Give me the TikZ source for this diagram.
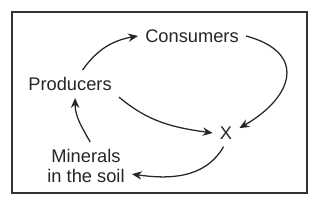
\documentclass[tikz,border=0pt]{standalone}
\usepackage{fontspec}
\setmainfont{Liberation Sans}
\usetikzlibrary{arrows.meta}
\tikzset{
    cycle label/.style={
        inner sep=5pt,
        text=black!85,
        font=\fontsize{13}{14.2}\selectfont,
        align=center
    },
    flow arrow/.style={
        ->,line width=0.9pt,draw=black!85
    },
    >={Stealth[length=7pt,width=6pt]}
}

\begin{document}
\begin{tikzpicture}[x=0.025cm,y=0.025cm]
\useasboundingbox (0,0) rectangle (323,203);
\draw[black!80,line width=1pt] (12,10) rectangle (307,191);
\node[cycle label] (cons) at (192,167) {Consumers};
\node[cycle label] (prod) at (70,119) {Producers};
\node[cycle label] (x) at (226,70) {X};
\node[cycle label] (min) at (86,37) {Minerals\\in the soil};
\draw[flow arrow] (prod.48) to[out=55,in=190] (cons.west);
\draw[flow arrow] (cons.east) to[out=-15,in=30,looseness=1.75] (x.20);
\draw[flow arrow] (prod.-15) to[out=-40,in=172] (x.west);
\draw[flow arrow] (x.-100) to[out=-120,in=-8] (min.-10);
\draw[flow arrow] (min.80) to[out=120,in=-90] (prod.-70);
\end{tikzpicture}
\end{document}
